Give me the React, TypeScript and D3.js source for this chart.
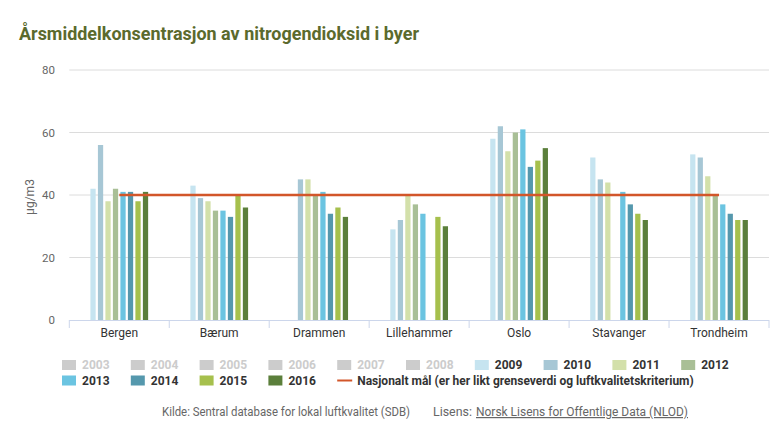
import * as d3 from 'd3';
import React from 'react';

const TITLE = "Årsmiddelkonsentrasjon av nitrogendioksid i byer";
const Y_LABEL = "μg/m3";
const TARGET_LABEL = "Nasjonalt mål (er her likt grenseverdi og luftkvalitetskriterium)";

const cities = ["Bergen", "Bærum", "Drammen", "Lillehammer", "Oslo", "Stavanger", "Trondheim"];

// 2003-2008 are switched off in the legend, so they draw no bars
const hiddenYears = ["2003", "2004", "2005", "2006", "2007", "2008"];
const shownYears = ["2009", "2010", "2011", "2012", "2013", "2014", "2015", "2016"];

const v2009 = [42, 43, null, 29, 58, 52, 53];
const v2010 = [56, 39, 45, 32, 62, 45, 52];
const v2011 = [38, 38, 45, 40, 54, 44, 46];
const v2012 = [42, 35, 40, 37, 60, null, 40];
const v2013 = [41, 35, 41, 34, 61, 41, 37];
const v2014 = [41, 33, 34, null, 49, 37, 34];
const v2015 = [38, 40, 36, 33, 51, 34, 32];
const v2016 = [41, 36, 33, 30, 55, 32, 32];
const shownValues: (number | null)[][] = [v2009, v2010, v2011, v2012, v2013, v2014, v2015, v2016];

const target = [40, 40, 40, 40, 40, 40, 40];
const yTicks = [0, 20, 40, 60, 80];

const yearColors = ["#c6e4f0", "#a7c7d5", "#d3e0aa", "#a9bf96", "#6bc4e1", "#5598ad", "#a6c04d", "#5b7f3b"];
const targetColor = "#d2562a";
const hiddenColor = "#cccccc";

const W = 783;
const H = 426;
const plot = { left: 69.3, right: 769, top: 70, bottom: 320 };
const FONT = "Roboto, 'Noto Sans', sans-serif";

const App: React.FC = () => {
  const y = d3.scaleLinear().domain([0, 80]).range([plot.bottom, plot.top]);
  const x0 = d3.scaleBand<string>().domain(cities).range([plot.left, plot.right]);
  const band = x0.bandwidth();
  const x1 = d3.scaleBand<string>()
    .domain(shownYears)
    .range([band * 0.2, band * 0.8])
    .paddingInner(0.3)
    .paddingOuter(0.15);

  const line = d3.line<number>()
    .x((_, i) => x0(cities[i])! + band / 2)
    .y(val => y(val));

  const legendItems = [
    ...hiddenYears.map(yr => ({ label: yr, color: hiddenColor, hidden: true })),
    ...shownYears.map((yr, i) => ({ label: yr, color: yearColors[i], hidden: false })),
  ];
  const legendStep = 68.8;
  const legendX = 62;

  return (
    <svg width={W} height={H} style={{ position: "absolute", left: 0, top: 0, background: "#fff" }} fontFamily={FONT}>
      <text x={19} y={40} fontSize={18} fontWeight="bold" fill="#5b6a2d" textLength={400} lengthAdjust="spacingAndGlyphs">
        {TITLE}
      </text>

      {/* grid + y labels */}
      {yTicks.map(t => (
        <g key={t}>
          {t > 0 && <line x1={plot.left} x2={plot.right} y1={y(t)} y2={y(t)} stroke="#dcdcdc" strokeWidth={1} />}
          <text x={55} y={y(t)} dy="0.35em" textAnchor="end" fontSize={11.5} fill="#666">{t}</text>
        </g>
      ))}
      <text transform={`translate(34,${(plot.top + plot.bottom) / 2 + 2}) rotate(-90)`} textAnchor="middle" fontSize={12} fill="#666">
        {Y_LABEL}
      </text>

      {/* bars */}
      {cities.map((city, ci) => (
        <g key={city} transform={`translate(${x0(city)},0)`}>
          {shownYears.map((yr, yi) => {
            const val = shownValues[yi][ci];
            if (val === null) { return null; }
            return (
              <rect key={yr} x={x1(yr)} y={y(val)} width={x1.bandwidth()} height={y(0) - y(val)} fill={yearColors[yi]} />
            );
          })}
        </g>
      ))}

      {/* x axis */}
      <line x1={plot.left} x2={plot.right} y1={plot.bottom + 0.5} y2={plot.bottom + 0.5} stroke="#ccd6eb" />
      {[...cities.map(c => x0(c)!), plot.right].map((px, i) => (
        <line key={i} x1={px} x2={px} y1={plot.bottom} y2={plot.bottom + 8} stroke="#ccd6eb" />
      ))}
      {cities.map(city => (
        <text key={city} x={x0(city)! + band / 2} y={337} textAnchor="middle" fontSize={12} fill="#333">{city}</text>
      ))}

      {/* target line */}
      <path d={line(target) ?? ""} fill="none" stroke={targetColor} strokeWidth={2.5} />

      {/* legend */}
      {legendItems.map((item, i) => {
        const row = i < 10 ? 0 : 1;
        const col = i < 10 ? i : i - 10;
        const lx = legendX + col * legendStep;
        const ly = row === 0 ? 365 : 380.5;
        return (
          <g key={item.label}>
            <rect x={lx} y={ly - 5} width={14} height={10} fill={item.color} />
            <text x={lx + 20} y={ly} dy="0.35em" fontSize={12} fontWeight="bold" fill={item.hidden ? hiddenColor : "#333"}>
              {item.label}
            </text>
          </g>
        );
      })}
      <g>
        <line x1={legendX + 4 * legendStep} x2={legendX + 4 * legendStep + 15} y1={380.5} y2={380.5} stroke={targetColor} strokeWidth={2} />
        <text x={legendX + 4 * legendStep + 20} y={380.5} dy="0.35em" fontSize={12} fontWeight="bold" fill="#333">
          {TARGET_LABEL}
        </text>
      </g>

      {/* credits */}
      <text y={416} fontSize={12} fill="#666">
        <tspan x={162} textLength={248} lengthAdjust="spacingAndGlyphs">Kilde: Sentral database for lokal luftkvalitet (SDB)</tspan>
        <tspan x={433} textLength={39} lengthAdjust="spacingAndGlyphs">Lisens:</tspan>
        <tspan x={476} textLength={212} lengthAdjust="spacingAndGlyphs" textDecoration="underline">Norsk Lisens for Offentlige Data (NLOD)</tspan>
      </text>
    </svg>
  );
};

export default App;
